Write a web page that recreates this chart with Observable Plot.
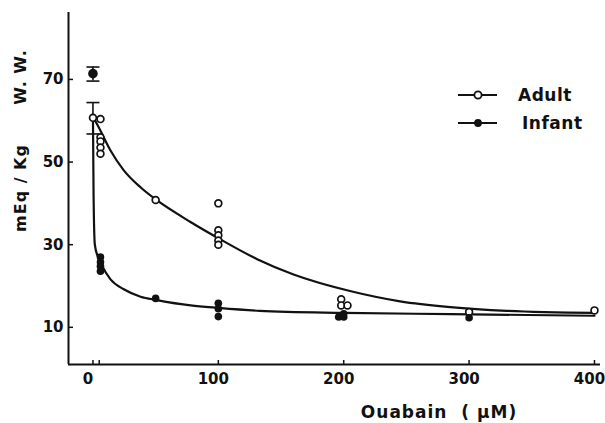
<!DOCTYPE html>
<html><head><meta charset="utf-8">
<script src="https://cdn.jsdelivr.net/npm/d3@7"></script>
<script src="https://cdn.jsdelivr.net/npm/@observablehq/plot@0.6"></script>
<style>
body{margin:0;background:#fff;}
#wrap{position:relative;width:605px;height:423px;}
#legend{position:absolute;left:0;top:0;pointer-events:none;}
</style></head><body><div id="wrap"></div>
<script>
// Axes
const xDomain = [-19.5, 404.8];
const yDomain = [1, 86.2];
const xTicks = [0, 100, 200, 300, 400];
const minorXTicks = [5];
const yTicks = [10, 30, 50, 70];
const yLabelMain = "mEq / Kg";
const yLabelExtra = "W. W.";
const xLabel = "Ouabain  ( \u03BCM)";
const seriesNames = ["Adult", "Infant"];

// Adult individual points (open circles)
const adultX = [0, 6, 6, 6, 6, 6, 50, 100, 100, 100, 100, 100, 198, 198, 203, 300, 400];
const adultY = [60.7, 60.4, 56, 55, 53.5, 52, 40.8, 40, 33.5, 32.3, 31, 30, 16.8, 15.3, 15.3, 13.7, 14.1];

// Infant control mean (x = 0) and individual points (filled circles)
const infantCtrlX = [0];
const infantCtrlY = [71.4];
const infantX = [6, 6, 6, 6, 50, 100, 100, 100, 196, 200, 200, 300];
const infantY = [27, 25.8, 24.8, 23.6, 17, 15.8, 14.5, 12.6, 12.5, 12.5, 13.3, 12.3];

// Error bars at control (x = 0): infant, adult
const errX = [0, 0];
const errLow = [69.6, 56.8];
const errHigh = [73, 64.4];

// Fitted curves
const adultCurveX = [0, 4.6, 14, 24.6, 37.9, 51.2, 77.8, 100.4, 131, 160, 205, 245, 285, 330, 400];
const adultCurveY = [61, 58.4, 52.8, 48, 43.9, 40.7, 35.5, 31.5, 26.5, 22.8, 18.8, 16.3, 14.9, 14, 13.5];
const infantCurveX = [0, 0.5, 1.5, 4, 7, 14, 24.6, 38, 51, 78, 100, 133, 200, 285, 400];
const infantCurveY = [61, 42, 30, 27, 25, 21.6, 19.2, 17.4, 16.6, 15.3, 14.7, 14, 13.5, 13.2, 12.8];

const ink = "#111";
const capSymbol = {draw(ctx, size) { ctx.moveTo(-6.5, 0); ctx.lineTo(6.5, 0); }};

const chart = Plot.plot({
  width: 605, height: 423,
  marginLeft: 68, marginRight: 5, marginTop: 12, marginBottom: 59,
  style: {fontFamily: "DejaVu Sans", fontSize: "15px", fontWeight: "bold", color: ink, background: "#fff"},
  x: {domain: xDomain},
  y: {domain: yDomain},
  marks: [
    Plot.axisX({ticks: xTicks.concat(minorXTicks), tickSize: -4, tickFormat: () => "", label: null, strokeWidth: 1.5}),
    Plot.axisX({ticks: xTicks, tickSize: 0, tickPadding: 9, dx: -5, label: null}),
    Plot.axisY({ticks: yTicks, tickSize: -5, tickPadding: 10, label: null, strokeWidth: 1.5}),
    Plot.ruleY([yDomain[0]], {stroke: ink, strokeWidth: 2}),
    Plot.ruleX([xDomain[0]], {stroke: ink, strokeWidth: 2}),
    Plot.line(adultCurveX, {x: adultCurveX, y: adultCurveY, curve: "monotone-x", stroke: ink, strokeWidth: 2.2}),
    Plot.line(infantCurveX, {x: infantCurveX, y: infantCurveY, curve: "monotone-x", stroke: ink, strokeWidth: 2.2}),
    Plot.ruleX(errX, {x: errX, y1: errLow, y2: errHigh, stroke: ink, strokeWidth: 1.6}),
    Plot.dot(errX, {x: errX, y: errLow, symbol: capSymbol, stroke: ink, strokeWidth: 1.6}),
    Plot.dot(errX, {x: errX, y: errHigh, symbol: capSymbol, stroke: ink, strokeWidth: 1.6}),
    Plot.dot(adultX, {x: adultX, y: adultY, r: 3.4, stroke: ink, fill: "#fff", strokeWidth: 1.7}),
    Plot.dot(infantX, {x: infantX, y: infantY, r: 3.8, fill: ink, stroke: "none"}),
    Plot.dot(infantCtrlX, {x: infantCtrlX, y: infantCtrlY, r: 4.8, fill: ink, stroke: "none"})
  ]
});

const svg = d3.select(chart);
svg.append("text")
  .attr("transform", "translate(20,188) rotate(-90)")
  .attr("text-anchor", "middle").attr("dominant-baseline", "central")
  .attr("font-size", 16).attr("font-weight", "bold").attr("letter-spacing", 1)
  .attr("fill", ink).text(yLabelMain);
svg.append("text")
  .attr("transform", "translate(20,77) rotate(-90)")
  .attr("text-anchor", "middle").attr("dominant-baseline", "central")
  .attr("font-size", 16).attr("font-weight", "bold").attr("letter-spacing", 1)
  .attr("fill", ink).text(yLabelExtra);
svg.append("text")
  .attr("x", 439).attr("y", 412)
  .attr("text-anchor", "middle").attr("dominant-baseline", "central")
  .attr("font-size", 17).attr("font-weight", "bold").attr("letter-spacing", 1)
  .attr("fill", ink).text(xLabel);

const wrap = document.getElementById("wrap");
wrap.appendChild(chart);

// Legend overlay
const NS = "http://www.w3.org/2000/svg";
const leg = document.createElementNS(NS, "svg");
leg.setAttribute("id", "legend");
leg.setAttribute("width", 605); leg.setAttribute("height", 423);
const lsel = d3.select(leg);
seriesNames.forEach((name, i) => {
  const cy = 95 + i * 28;
  lsel.append("line").attr("x1", 458).attr("x2", 497).attr("y1", cy).attr("y2", cy)
    .attr("stroke", ink).attr("stroke-width", 2);
  lsel.append("circle").attr("cx", 478).attr("cy", cy).attr("r", i === 0 ? 3.6 : 3.9)
    .attr("fill", i === 0 ? "#fff" : ink).attr("stroke", ink).attr("stroke-width", i === 0 ? 1.8 : 0);
  lsel.append("text").attr("x", 518 + i * 4).attr("y", cy).attr("dominant-baseline", "central")
    .attr("font-family", "DejaVu Sans").attr("font-size", 17).attr("font-weight", "bold")
    .attr("letter-spacing", 0.5).attr("fill", ink).text(name);
});
wrap.appendChild(leg);
</script>
</body></html>
